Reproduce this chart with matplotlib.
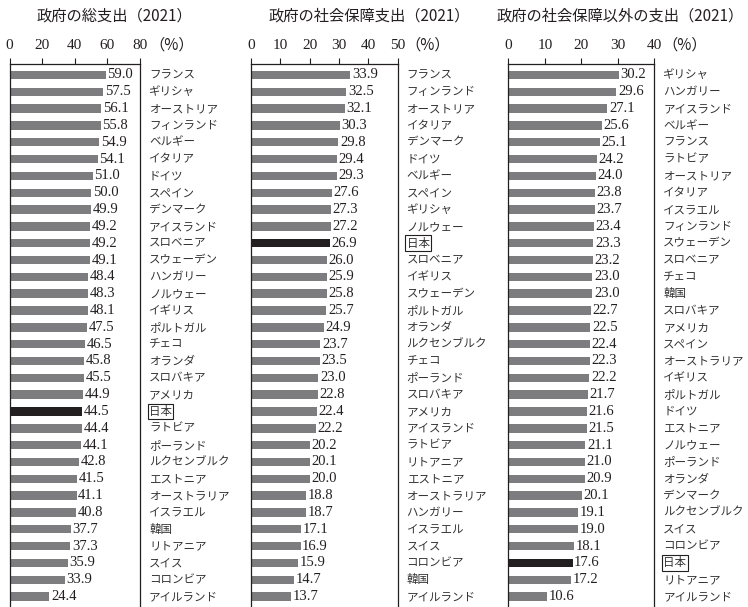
import matplotlib
matplotlib.use('Agg')
import matplotlib.pyplot as plt

plt.rcParams['font.family'] = ['Noto Sans CJK JP', 'DejaVu Sans']

total_countries = ['フランス', 'ギリシャ', 'オーストリア', 'フィンランド', 'ベルギー', 'イタリア', 'ドイツ',
                   'スペイン', 'デンマーク', 'アイスランド', 'スロベニア', 'スウェーデン', 'ハンガリー',
                   'ノルウェー', 'イギリス', 'ポルトガル', 'チェコ', 'オランダ', 'スロバキア', 'アメリカ',
                   '日本', 'ラトビア', 'ポーランド', 'ルクセンブルク', 'エストニア', 'オーストラリア',
                   'イスラエル', '韓国', 'リトアニア', 'スイス', 'コロンビア', 'アイルランド']
total_values = [59.0, 57.5, 56.1, 55.8, 54.9, 54.1, 51.0, 50.0, 49.9, 49.2, 49.2, 49.1, 48.4, 48.3,
                48.1, 47.5, 46.5, 45.8, 45.5, 44.9, 44.5, 44.4, 44.1, 42.8, 41.5, 41.1, 40.8, 37.7,
                37.3, 35.9, 33.9, 24.4]

social_countries = ['フランス', 'フィンランド', 'オーストリア', 'イタリア', 'デンマーク', 'ドイツ', 'ベルギー',
                    'スペイン', 'ギリシャ', 'ノルウェー', '日本', 'スロベニア', 'イギリス', 'スウェーデン',
                    'ポルトガル', 'オランダ', 'ルクセンブルク', 'チェコ', 'ポーランド', 'スロバキア',
                    'アメリカ', 'アイスランド', 'ラトビア', 'リトアニア', 'エストニア', 'オーストラリア',
                    'ハンガリー', 'イスラエル', 'スイス', 'コロンビア', '韓国', 'アイルランド']
social_values = [33.9, 32.5, 32.1, 30.3, 29.8, 29.4, 29.3, 27.6, 27.3, 27.2, 26.9, 26.0, 25.9, 25.8,
                 25.7, 24.9, 23.7, 23.5, 23.0, 22.8, 22.4, 22.2, 20.2, 20.1, 20.0, 18.8, 18.7, 17.1,
                 16.9, 15.9, 14.7, 13.7]

other_countries = ['ギリシャ', 'ハンガリー', 'アイスランド', 'ベルギー', 'フランス', 'ラトビア', 'オーストリア',
                   'イタリア', 'イスラエル', 'フィンランド', 'スウェーデン', 'スロベニア', 'チェコ', '韓国',
                   'スロバキア', 'アメリカ', 'スペイン', 'オーストラリア', 'イギリス', 'ポルトガル', 'ドイツ',
                   'エストニア', 'ノルウェー', 'ポーランド', 'オランダ', 'デンマーク', 'ルクセンブルク',
                   'スイス', 'コロンビア', '日本', 'リトアニア', 'アイルランド']
other_values = [30.2, 29.6, 27.1, 25.6, 25.1, 24.2, 24.0, 23.8, 23.7, 23.4, 23.3, 23.2, 23.0, 23.0,
                22.7, 22.5, 22.4, 22.3, 22.2, 21.7, 21.6, 21.5, 21.1, 21.0, 20.9, 20.1, 19.1, 19.0,
                18.1, 17.6, 17.2, 10.6]

titles = ['政府の総支出（2021）', '政府の社会保障支出（2021）', '政府の社会保障以外の支出（2021）']
x_max = [80, 50, 40]
x_ticks = [[0, 20, 40, 60, 80], [0, 10, 20, 30, 40, 50], [0, 10, 20, 30, 40]]
highlight = '日本'

W, H = 748, 607
fig = plt.figure(figsize=(W / 100, H / 100), dpi=100)
top_px = 63.5
# (left px, right px, title center px, % text left px)
layout = [(9.5, 140.0, 114, 149), (251, 397.5, 369, 405), (508.3, 654.3, 620, 662)]

GRAY = '#7d7d7f'
DARK = '#231f20'
TXT = '#231f20'

datasets = [(total_countries, total_values), (social_countries, social_values),
            (other_countries, other_values)]

for k, ((cats, vals), (x0, x1, tcx, pcx)) in enumerate(zip(datasets, layout)):
    ax = fig.add_axes([x0 / W, 0, (x1 - x0) / W, (H - top_px) / H])
    n = len(cats)
    ypos = list(range(n))
    colors = [DARK if c == highlight else GRAY for c in cats]
    ax.barh(ypos, vals, height=0.5, color=colors, zorder=2)
    ax.set_xlim(0, x_max[k])
    ax.set_ylim(31.62, -0.68)
    ax.xaxis.tick_top()
    ax.set_xticks(x_ticks[k])
    ax.set_xticklabels([str(t) for t in x_ticks[k]], fontfamily='Liberation Serif', fontsize=11, color=TXT)
    ax.tick_params(axis='x', direction='out', length=4, width=0.8, pad=4, colors=TXT)
    ax.set_yticks([])
    ax.spines['bottom'].set_visible(False)
    for s in ['left', 'right', 'top']:
        ax.spines[s].set_linewidth(0.9)
        ax.spines[s].set_color(TXT)
    for i, (c, v) in enumerate(zip(cats, vals)):
        ax.annotate(f'{v:.1f}', xy=(v, i), xytext=(1.2, 0), textcoords='offset points',
                    ha='left', va='center', fontfamily='Liberation Serif', fontsize=10.5,
                    color=TXT, annotation_clip=False)
        kw = {}
        if c == highlight:
            kw['bbox'] = dict(boxstyle='square,pad=0.12', fc='none', ec=TXT, lw=0.8)
        ax.annotate(c, xy=(1, i), xycoords=('axes fraction', 'data'), xytext=(6.5, 0),
                    textcoords='offset points', ha='left', va='center', fontsize=8.3,
                    color='#333333', annotation_clip=False, **kw)
    fig.text(tcx / W, 1 - 16 / H, titles[k], ha='center', va='center', fontsize=11, color=TXT)
    fig.text(pcx / W, 1 - 45 / H, '（%）', ha='left', va='center', fontsize=11,
             family=['Noto Sans CJK JP', 'DejaVu Sans'], color=TXT)

fig.savefig('out.png', dpi=100)
